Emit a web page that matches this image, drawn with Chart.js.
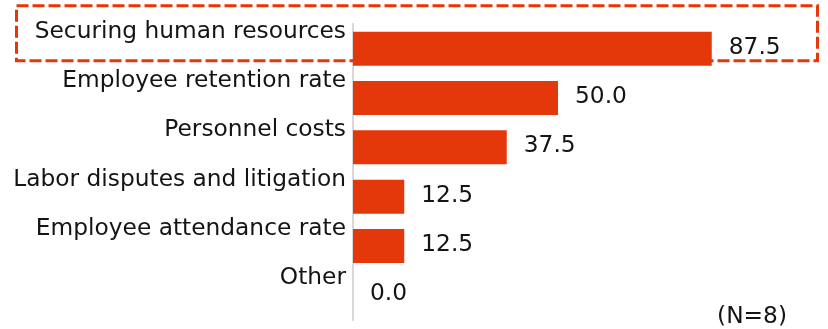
<!DOCTYPE html>
<html>
<head>
<meta charset="utf-8">
<script src="https://cdn.jsdelivr.net/npm/chart.js@4/dist/chart.umd.min.js"></script>
<style>
  html, body { margin: 0; padding: 0; background: #ffffff; }
  #wrap { width: 828px; height: 329px; position: relative; }
</style>
</head>
<body>
<div id="wrap"><canvas id="chart" width="828" height="329"></canvas></div>
<script>
// Survey items and the share of respondents (%) selecting each
const categories = [
  'Securing human resources',
  'Employee retention rate',
  'Personnel costs',
  'Labor disputes and litigation',
  'Employee attendance rate',
  'Other'
];
const shares = [87.5, 50.0, 37.5, 12.5, 12.5, 0.0];
const sampleNote = '(N=8)';

const BAR_COLOR = '#E4380A';
const TEXT_COLOR = '#141414';
const FONT = 'DejaVu Sans, Verdana, sans-serif';

// Value labels to the right of each bar, plus the sample-size note
const valueLabels = {
  id: 'valueLabels',
  afterDatasetsDraw(chart) {
    const ctx = chart.ctx;
    const meta = chart.getDatasetMeta(0);
    ctx.save();
    ctx.font = '23.3px ' + FONT;
    ctx.fillStyle = TEXT_COLOR;
    ctx.textAlign = 'left';
    ctx.textBaseline = 'middle';
    meta.data.forEach((bar, i) => {
      ctx.fillText(shares[i].toFixed(1), bar.x + 17, bar.y - 1);
    });
    const area = chart.chartArea;
    ctx.textAlign = 'right';
    ctx.fillText(sampleNote, area.right + 24, area.bottom - 3);
    ctx.restore();
  }
};

// Dashed frame highlighting the top item
const highlightFrame = {
  id: 'highlightFrame',
  beforeDatasetsDraw(chart) {
    const ctx = chart.ctx;
    const y = chart.scales.y;
    const center = y.getPixelForValue(0);
    ctx.save();
    ctx.strokeStyle = BAR_COLOR;
    ctx.lineWidth = 3;
    ctx.setLineDash([12, 4]);
    ctx.strokeRect(16.5, center - 43, chart.width - 27, 55);
    ctx.restore();
  }
};

new Chart(document.getElementById('chart'), {
  type: 'bar',
  data: {
    labels: categories,
    datasets: [{
      data: shares,
      backgroundColor: BAR_COLOR,
      borderWidth: 0,
      barPercentage: 0.69,
      categoryPercentage: 1.0
    }]
  },
  options: {
    indexAxis: 'y',
    responsive: false,
    animation: false,
    devicePixelRatio: 1,
    layout: { padding: { left: 0, right: 65, top: 24, bottom: 9 } },
    plugins: {
      legend: { display: false },
      tooltip: { enabled: false }
    },
    scales: {
      x: {
        display: false,
        min: 0,
        max: 100
      },
      y: {
        afterFit(scale) {
          scale.width = 353;
          scale.paddingTop = 0;
          scale.paddingBottom = 0;
        },
        grid: { display: false, drawTicks: false },
        border: { display: true, color: '#D9D9D9', width: 2 },
        ticks: {
          padding: 7,
          labelOffset: -17,
          color: TEXT_COLOR,
          font: { family: FONT, size: 23.3 },
          autoSkip: false
        }
      }
    }
  },
  plugins: [highlightFrame, valueLabels]
});
</script>
</body>
</html>
